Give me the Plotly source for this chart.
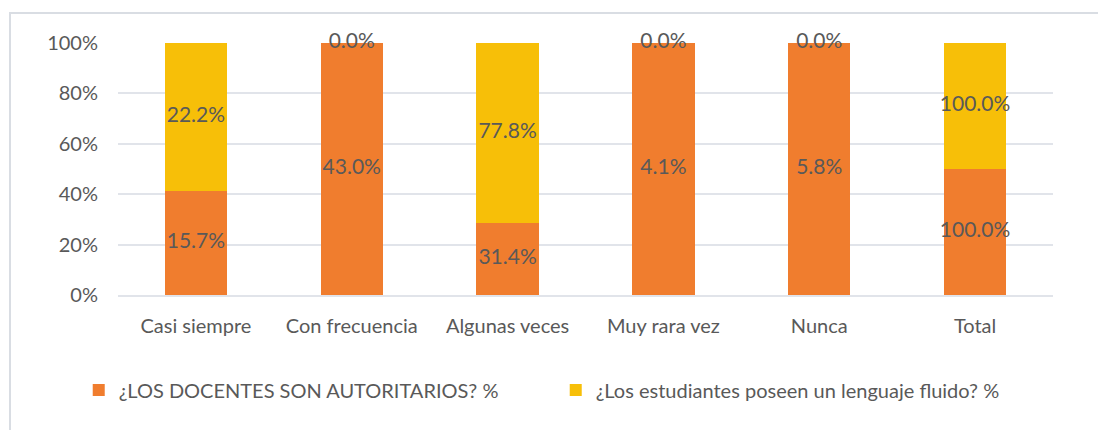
import numpy as np
import plotly.graph_objects as go

categories = ["Casi siempre", "Con frecuencia", "Algunas veces", "Muy rara vez", "Nunca", "Total"]
docentes = [15.7, 43.0, 31.4, 4.1, 5.8, 100.0]
estudiantes = [22.2, 0.0, 77.8, 0.0, 0.0, 100.0]
series_names = ["¿LOS DOCENTES SON AUTORITARIOS? %", "¿Los estudiantes poseen un lenguaje fluido? %"]
colors = ["#F07D2E", "#F7BF08"]
y_ticks = [0, 20, 40, 60, 80, 100]

d = np.array(docentes)
e = np.array(estudiantes)
tot = d + e
d_share = d / tot * 100
e_share = e / tot * 100

FONT = "Lato"
TXT = "#595959"

fig = go.Figure()
fig.add_trace(go.Bar(x=categories, y=docentes, name=series_names[0], marker=dict(color=colors[0], line=dict(width=0))))
fig.add_trace(go.Bar(x=categories, y=estudiantes, name=series_names[1], marker=dict(color=colors[1], line=dict(width=0))))

# data labels at centre of each segment
fig.add_trace(go.Scatter(x=categories, y=d_share / 2, mode="text", cliponaxis=False,
                         text=[f"{v:.1f}%" for v in docentes], showlegend=False,
                         textfont=dict(family=FONT, size=21, color=TXT), hoverinfo="skip"))
fig.add_trace(go.Scatter(x=categories, y=d_share + e_share / 2, mode="text", cliponaxis=False,
                         text=[f"{v:.1f}%" for v in estudiantes], showlegend=False,
                         textfont=dict(family=FONT, size=21, color=TXT), hoverinfo="skip"))

fig.update_layout(
    width=1106, height=430,
    margin=dict(l=110, r=61, t=35, b=143, autoexpand=False),
    barmode="stack", barnorm="percent", bargap=0.6,
    plot_bgcolor="white", paper_bgcolor="white",
    font=dict(family=FONT, size=20, color=TXT),
    legend=dict(orientation="h", x=-0.042, xanchor="left", y=-0.377, yanchor="middle",
                entrywidth=432, entrywidthmode="pixels", font=dict(size=20, color=TXT),
                traceorder="normal"),
    shapes=[dict(type="rect", xref="paper", yref="paper",
                 x0=(10 - 118) / 935, x1=1.2, y0=-1.0, y1=(295 - 13) / 252,
                 line=dict(color="#D9DDE3", width=2), fillcolor="rgba(0,0,0,0)", layer="below")],
)
fig.update_yaxes(range=[0, 100], tickmode="array", tickvals=y_ticks, ticktext=[f"{t}%" for t in y_ticks],
                 showgrid=True, gridcolor="#E1E4EA", gridwidth=2, zeroline=False,
                 tickfont=dict(size=20, color=TXT), ticklabelstandoff=19, showline=False)
fig.update_xaxes(showline=True, linecolor="#E1E4EA", linewidth=2, tickfont=dict(size=20, color=TXT),
                 ticklabelstandoff=12)

fig.write_html("out.html")
